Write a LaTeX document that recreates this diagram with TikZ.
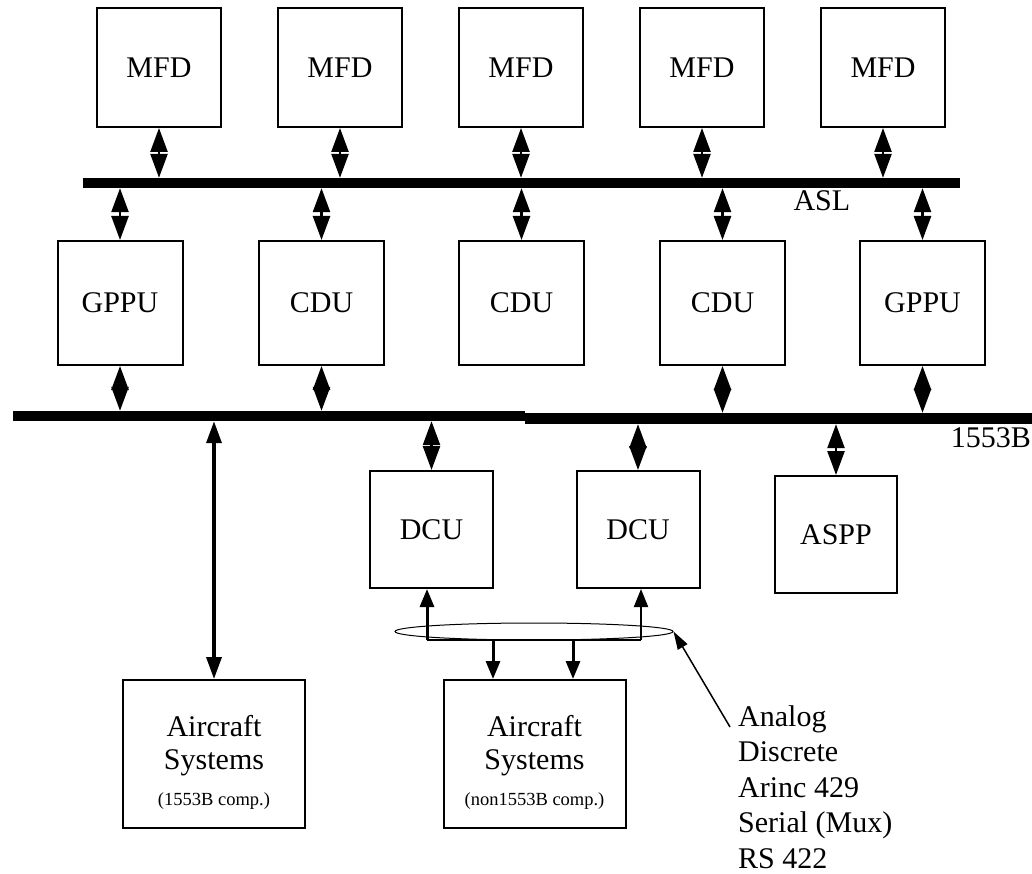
\documentclass[tikz,border=0pt]{standalone}
\usepackage{fontspec}
\setmainfont{Liberation Serif}
\usetikzlibrary{arrows.meta,shapes.geometric}
\newcommand\boxfont{\fontsize{30pt}{33pt}\selectfont}
\newcommand\notefont{\fontsize{18.5pt}{20pt}\selectfont}
\newcommand\listfont{\fontsize{30pt}{35.5pt}\selectfont}

\begin{document}
\begin{tikzpicture}[x=1pt,y=-1pt,
		unit/.style={draw,line width=2,inner sep=0,font=\boxfont},
		bus/.style={fill=black,inner sep=0,minimum height=10},
		link/.style={line width=2.5,{Triangle[length=24pt,width=17pt]}-{Triangle[length=24pt,width=17pt]}},
		tap/.style={line width=3,-{Triangle[length=18pt,width=14pt]}},
		pointer/.style={line width=1.5,-{Triangle[length=18pt,width=11pt]}}]
		\useasboundingbox (0,0) rectangle (1032,874);
		% buses
		\node[bus,minimum width=877] (asl) at (521.5,183) {};
		\node[bus,minimum width=512] (busL) at (269,416) {};
		\node[bus,minimum width=507,minimum height=11] (busR) at (778.5,418.5) {};
		\node[anchor=base west,font=\boxfont] (asllabel) at (790,211) {ASL};
		\node[anchor=base east,inner xsep=0,font=\boxfont] (buslabel) at (1031,447) {1553B};
		% displays and processors
		\foreach \i in {1,...,5}
			\node[unit,minimum width=124,minimum height=119] (mfd\i) at ({159+181*(\i-1)},67.5) {MFD};
		\node[unit,minimum width=125,minimum height=124] (gppu1) at (120,303) {GPPU};
		\node[unit,minimum width=125,minimum height=124] (cdu1) at (321.5,303) {CDU};
		\node[unit,minimum width=125,minimum height=124] (cdu2) at (521.5,303) {CDU};
		\node[unit,minimum width=125,minimum height=124] (cdu3) at (722.5,303) {CDU};
		\node[unit,minimum width=125,minimum height=124] (gppu2) at (922.5,303) {GPPU};
		\foreach \n in {mfd1,mfd2,mfd3,mfd4,mfd5}
			\draw[link] (\n.south) -- (\n.south |- asl.north);
		\foreach \n in {gppu1,cdu1,cdu2,cdu3,gppu2}
			\draw[link] (\n.north) -- (\n.north |- asl.south);
		\draw[link] (gppu1.south) -- (gppu1.south |- busL.north);
		\draw[link] (cdu1.south) -- (cdu1.south |- busL.north);
		\draw[link] (cdu3.south) -- (cdu3.south |- busR.north);
		\draw[link] (gppu2.south) -- (gppu2.south |- busR.north);
		% 1553B side
		\node[unit,minimum width=123,minimum height=117] (dcu1) at (431.5,529.5) {DCU};
		\node[unit,minimum width=123,minimum height=117] (dcu2) at (638,529.5) {DCU};
		\node[unit,minimum width=122,minimum height=117] (aspp) at (836,534.5) {ASPP};
		\draw[link] (dcu1.north) -- (dcu1.north |- busL.south);
		\draw[link] (dcu2.north) -- (dcu2.north |- busR.south);
		\draw[link] (aspp.north) -- (aspp.north |- busR.south);
		\node[unit,align=center,minimum width=182,minimum height=148] (sys1) at (214,754)
			{\rule{0pt}{38pt}Aircraft\\Systems\\[3pt]{\notefont(1553B comp.)}};
		\node[unit,align=center,minimum width=182,minimum height=148] (sys2) at (534.5,754)
			{\rule{0pt}{38pt}Aircraft\\Systems\\[3pt]{\notefont(non1553B comp.)}};
		\draw[line width=3.5,{Triangle[length=22pt,width=15pt]}-{Triangle[length=22pt,width=15pt]}] (sys1.north) -- (sys1.north |- busL.south);
		% discrete lines
		\node[draw,ellipse,line width=1,inner sep=0,minimum width=278,minimum height=17] (mux) at (534,631.5) {};
		\coordinate (ha) at (427,640);
		\coordinate (hb) at (641,640);
		\coordinate (da) at (493,640);
		\coordinate (db) at (573,640);
		\draw[line width=2] (ha) -- (hb);
		\draw[tap] (ha) -- (ha |- dcu1.south);
		\draw[tap,line width=2] (hb) -- (hb |- dcu2.south);
		\draw[tap] (da) -- (da |- sys2.north);
		\draw[tap] (db) -- (db |- sys2.north);
		\node[anchor=north west,align=left,inner sep=0,font=\listfont] (sig) at (738,705)
			{Analog\\Discrete\\Arinc 429\\Serial (Mux)\\RS 422};
		\coordinate (ptr) at (730,727);
		\draw[pointer] (ptr) -- (mux.east);
	\end{tikzpicture}
\end{document}
